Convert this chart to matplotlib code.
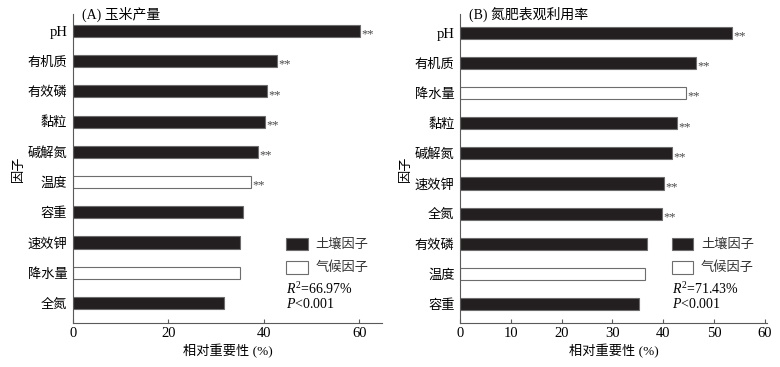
import matplotlib
matplotlib.use("Agg")
import matplotlib.pyplot as plt
from matplotlib.patches import Rectangle

plt.rcParams["font.family"] = ["Liberation Serif", "Noto Sans CJK SC"]
plt.rcParams["axes.unicode_minus"] = False
plt.rcParams["mathtext.fontset"] = "custom"
plt.rcParams["mathtext.it"] = "Liberation Serif:italic"
plt.rcParams["mathtext.rm"] = "Liberation Serif"

# (A) 玉米产量
a_factors = ["pH", "有机质", "有效磷", "黏粒", "碱解氮", "温度", "容重", "速效钾", "降水量", "全氮"]
a_values = [60.2, 42.7, 40.6, 40.3, 38.7, 37.2, 35.6, 35.1, 35.1, 31.7]
a_climate = [False, False, False, False, False, True, False, False, True, False]
a_sig = ["**", "**", "**", "**", "**", "**", "", "", "", ""]

# (B) 氮肥表观利用率
b_factors = ["pH", "有机质", "降水量", "黏粒", "碱解氮", "速效钾", "全氮", "有效磷", "温度", "容重"]
b_values = [53.6, 46.5, 44.5, 42.7, 41.7, 40.2, 39.7, 36.8, 36.4, 35.2]
b_climate = [False, False, True, False, False, False, False, False, True, False]
b_sig = ["**", "**", "**", "**", "**", "**", "**", "", "", ""]

soil_color = "#231f20"
edge_color = "#6d6d6d"
axis_color = "#5a5a5a"
fs = 9.5


def draw_panel(ax, title, factors, values, climate, sig, xlim, xticks, ylim,
               r2_text, leg_x):
    y = list(range(len(factors)))
    colors = ["white" if c else soil_color for c in climate]
    ax.barh(y, values, height=0.4, color=colors, edgecolor=edge_color, linewidth=0.8)
    for yi, v, s in zip(y, values, sig):
        if s:
            ax.text(v + 0.3, yi + 0.12, s, fontsize=9, color="#4a4a4a",
                    ha="left", va="center")
    ax.set_xlim(*xlim)
    ax.set_ylim(*ylim)
    ax.set_yticks(y)
    ax.set_yticklabels(factors, fontsize=fs)
    for lab in ax.get_yticklabels():
        if lab.get_text() == "pH":
            lab.set_fontsize(10.5)
    ax.set_xticks(xticks)
    ax.set_xticklabels([str(t) for t in xticks], fontsize=10.5)
    ax.tick_params(axis="x", direction="in", length=3, color=axis_color, pad=3)
    ax.tick_params(axis="y", length=0, pad=4)
    for side in ["top", "right"]:
        ax.spines[side].set_visible(False)
    for side in ["left", "bottom"]:
        ax.spines[side].set_color(axis_color)
        ax.spines[side].set_linewidth(0.8)
    ax.set_xlabel("相对重要性 (%)", fontsize=fs, labelpad=3)
    ax.set_ylabel("因子", fontsize=fs, labelpad=2)
    ax.text(0.03, 1.0, title, transform=ax.transAxes, fontsize=10,
            ha="left", va="center")

    # legend drawn by hand
    ax.add_patch(Rectangle((leg_x, 0.235), 0.07, 0.04, transform=ax.transAxes,
                           facecolor=soil_color, edgecolor=edge_color, lw=0.8,
                           clip_on=False))
    ax.text(leg_x + 0.095, 0.255, "土壤因子", transform=ax.transAxes,
            fontsize=fs, va="center", ha="left", color="#333333")
    ax.add_patch(Rectangle((leg_x, 0.16), 0.07, 0.04, transform=ax.transAxes,
                           facecolor="white", edgecolor=edge_color, lw=0.8,
                           clip_on=False))
    ax.text(leg_x + 0.095, 0.18, "气候因子", transform=ax.transAxes,
            fontsize=fs, va="center", ha="left", color="#333333")
    ax.text(leg_x, 0.11, r2_text, transform=ax.transAxes,
            fontsize=10, va="center", ha="left")
    ax.text(leg_x, 0.06, "$P$<0.001", transform=ax.transAxes,
            fontsize=10, va="center", ha="left")


fig = plt.figure(figsize=(7.8, 3.67), dpi=100)
ax1 = fig.add_axes([0.0936, 0.12, 0.3964, 0.842])
ax2 = fig.add_axes([0.59, 0.12, 0.393, 0.842])

draw_panel(ax1, "(A) 玉米产量", a_factors, a_values, a_climate, a_sig,
           (0, 64.8), [0, 20, 40, 60], (9.66, -0.56),
           "$R^2$=66.97%", 0.69)
draw_panel(ax2, "(B) 氮肥表观利用率", b_factors, b_values, b_climate, b_sig,
           (0, 60.4), [0, 10, 20, 30, 40, 50, 60], (9.63, -0.63),
           "$R^2$=71.43%", 0.69)

fig.savefig("out.png", dpi=100)
